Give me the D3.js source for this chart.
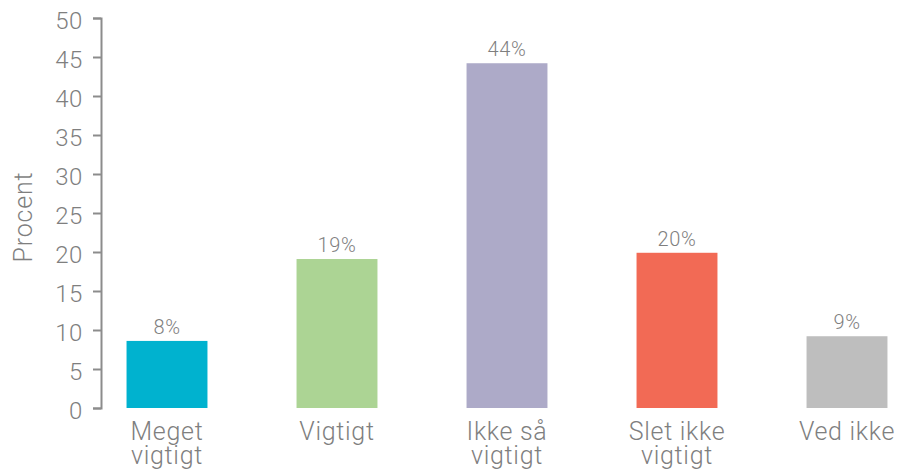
<!DOCTYPE html>
<html>
<head>
<meta charset="utf-8">
<script src="https://cdn.jsdelivr.net/npm/d3@7"></script>
<style>
  html, body { margin: 0; padding: 0; background: #fff; }
  svg text { font-family: "Roboto", "Liberation Sans", Arial, sans-serif; font-weight: 300; fill: #7f7f7f; }
</style>
</head>
<body>
<svg id="chart" width="898" height="473"></svg>
<script>
const categories = [["Meget", "vigtigt"], ["Vigtigt"], ["Ikke så", "vigtigt"], ["Slet ikke", "vigtigt"], ["Ved ikke"]];
const values = [8.6, 19.1, 44.2, 19.9, 9.2];
const valueLabels = ["8%", "19%", "44%", "20%", "9%"];
const colors = ["#00b2cf", "#acd494", "#adaac8", "#f26a55", "#bebebe"];
const yTicks = [0, 5, 10, 15, 20, 25, 30, 35, 40, 45, 50];
const yTitle = "Procent";

const svg = d3.select("#chart");
const idx = d3.range(values.length);

const x = d3.scaleBand().domain(idx).range([82, 932]).paddingInner(0.524).paddingOuter(0.262);
const y = d3.scaleLinear().domain([0, 50]).range([408, 18]);

const axisColor = "#8c8c8c";
const fontFam = "Roboto, 'Liberation Sans', Arial, sans-serif";
const yAxis = svg.append("g")
  .attr("transform", "translate(101,0)")
  .call(d3.axisLeft(y).tickValues(yTicks).tickSize(8).tickSizeOuter(8).tickPadding(10));
yAxis.selectAll("path, line").attr("stroke", axisColor).attr("stroke-width", 2);
yAxis.selectAll("text")
  .style("font-size", "24px").attr("dy", "0.42em")
  .style("font-family", fontFam).style("font-weight", 300)
  .style("letter-spacing", "0.6px")
  .attr("fill", "#7f7f7f");

svg.append("text")
  .attr("transform", `translate(32,217) rotate(-90)`)
  .attr("text-anchor", "middle")
  .style("font-size", "25px")
  .style("letter-spacing", "0.8px")
  .text(yTitle);

svg.selectAll("rect.bar").data(idx).enter().append("rect")
  .attr("class", "bar")
  .attr("x", i => x(i))
  .attr("width", x.bandwidth())
  .attr("y", i => y(values[i]))
  .attr("height", i => y(0) - y(values[i]))
  .attr("fill", i => colors[i]);

svg.selectAll("text.val").data(idx).enter().append("text")
  .attr("class", "val")
  .attr("x", i => x(i) + x.bandwidth() / 2)
  .attr("y", i => y(values[i]) - 7)
  .attr("text-anchor", "middle")
  .style("font-size", "20px")
  .style("letter-spacing", "0.6px")
  .text(i => valueLabels[i]);

const cat = svg.selectAll("text.cat").data(idx).enter().append("text")
  .attr("class", "cat")
  .attr("text-anchor", "middle")
  .style("font-size", "25px")
  .style("letter-spacing", "0.7px");
cat.each(function(i) {
  const t = d3.select(this);
  categories[i].forEach((line, j) => {
    t.append("tspan")
      .attr("x", x(i) + x.bandwidth() / 2)
      .attr("y", 440 + j * 24)
      .text(line);
  });
});
</script>
</body>
</html>
